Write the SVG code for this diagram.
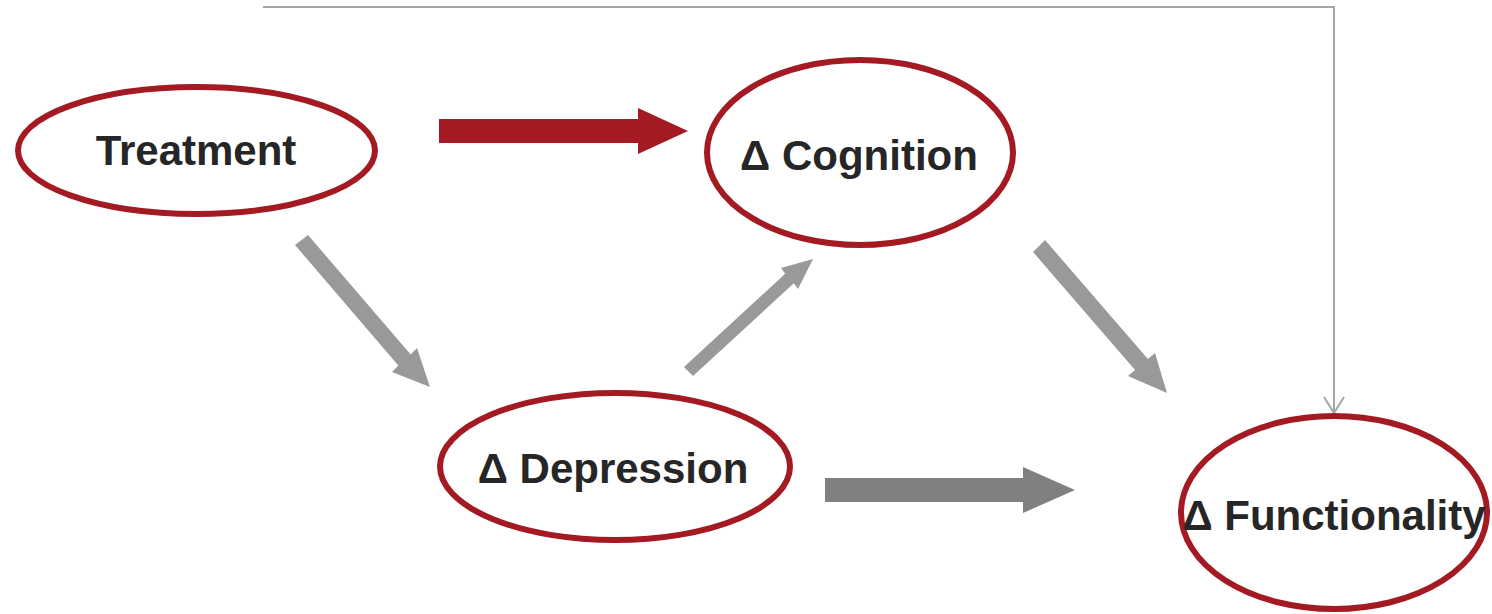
<svg xmlns="http://www.w3.org/2000/svg" width="1492" height="614" viewBox="0 0 1492 614">
<style>
.node{fill:#ffffff;stroke:#a31a23;stroke-width:6}
.lbl{font-family:"Liberation Sans",Arial,sans-serif;font-weight:bold;font-size:42px;fill:#262626;text-anchor:middle}
.red{fill:#a31a23}
.gray{fill:#999999}
.dgray{fill:#808080}
.thin{fill:none;stroke:#a6a6a6;stroke-width:2}
</style>
<rect width="1492" height="614" fill="#ffffff"/>
<g id="connectors">
<polygon class="red" points="439,119 638,119 638,108 688,131 638,154 638,143 439,143"/>
<polygon class="gray" points="295,245 308,235 410.7,354.6 417,348 430,387 392,372 398.3,365.4"/>
<polygon class="gray" points="684,367 693,376 793.8,283.2 798,289 813,259 781,268 785.2,273.8"/>
<polygon class="gray" points="1033,252 1045,240 1147.9,358.9 1155,353 1167,393 1128,376 1135.1,370.1"/>
<polygon class="dgray" points="825,478 1023,478 1023,467 1075,490 1023,513 1023,502 825,502"/>
<polyline class="thin" points="263,7 1334,7 1334,413"/>
<polyline class="thin" points="1324,397 1334,413 1344,397"/>
</g>
<g id="treatment">
<ellipse class="node" cx="196.5" cy="150.5" rx="178.5" ry="63.5"/>
<text class="lbl" x="196" y="165">Treatment</text>
</g>
<g id="cognition">
<ellipse class="node" cx="860" cy="152.5" rx="153" ry="92.5"/>
<text class="lbl" x="859" y="170">Δ Cognition</text>
</g>
<g id="depression">
<ellipse class="node" cx="615" cy="466.5" rx="175" ry="73.5"/>
<text class="lbl" x="613" y="483">Δ Depression</text>
</g>
<g id="functionality">
<ellipse class="node" cx="1334" cy="512.5" rx="153" ry="96.5"/>
<text class="lbl" x="1334" y="530">Δ Functionality</text>
</g>
</svg>
